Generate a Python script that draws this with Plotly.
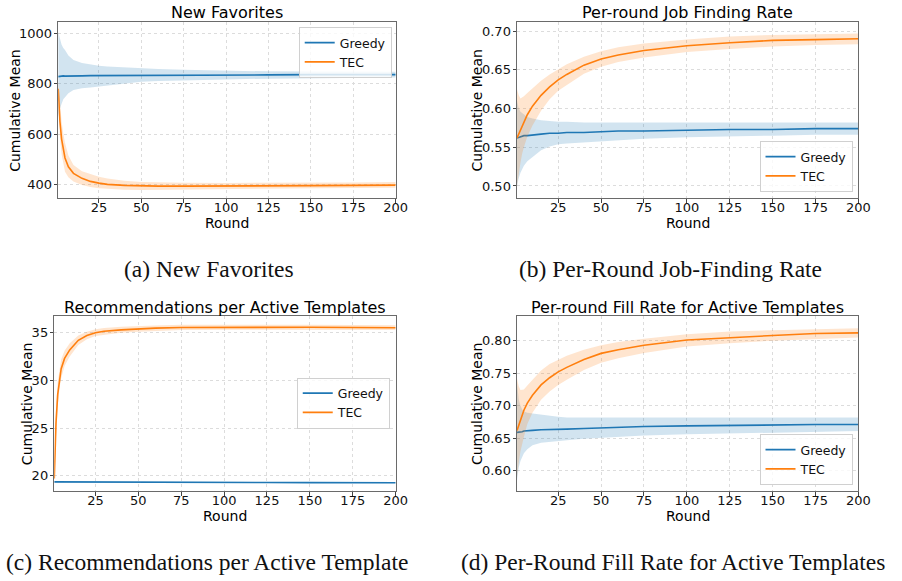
import plotly.graph_objects as go

W, H = 902, 581

rounds = [1, 2, 3, 4, 5, 7, 10, 15, 20, 25, 30, 40, 50, 60, 75, 100, 125, 150, 175, 200]

# (a) New Favorites
fav_greedy_mean = [828, 830, 829, 831, 830, 830, 829, 831, 832, 832, 833, 833, 834, 834, 835, 835, 835, 836, 836, 836]
fav_greedy_upper = [1005, 975, 955, 942, 934, 912, 894, 882, 875, 871, 868, 864, 861, 858, 855, 851, 849, 848, 847, 847]
fav_greedy_lower = [669, 700, 720, 738, 748, 762, 775, 782, 785, 787, 792, 800, 808, 811, 814, 817, 820, 822, 824, 825]
fav_tec_mean = [780, 650, 580, 535, 505, 470, 444, 424, 412, 405, 400, 396, 394, 393, 393, 393, 394, 395, 396, 397]
fav_tec_upper = [810, 720, 650, 600, 565, 515, 477, 452, 440, 430, 423, 415, 410, 408, 407, 406, 406, 407, 408, 410]
fav_tec_lower = [740, 590, 520, 480, 450, 428, 412, 398, 390, 385, 382, 379, 378, 378, 379, 380, 382, 384, 386, 387]

# (b) Per-round Job Finding Rate
job_greedy_mean = [0.562, 0.563, 0.564, 0.564, 0.565, 0.565, 0.566, 0.567, 0.568, 0.568, 0.569, 0.569, 0.570, 0.571, 0.571, 0.572, 0.573, 0.573, 0.574, 0.574]
job_greedy_upper = [0.610, 0.600, 0.596, 0.594, 0.592, 0.589, 0.587, 0.585, 0.584, 0.583, 0.583, 0.582, 0.582, 0.582, 0.582, 0.582, 0.582, 0.582, 0.582, 0.582]
job_greedy_lower = [0.500, 0.510, 0.517, 0.522, 0.526, 0.532, 0.538, 0.546, 0.551, 0.554, 0.555, 0.557, 0.558, 0.559, 0.561, 0.563, 0.564, 0.565, 0.566, 0.566]
job_tec_mean = [0.562, 0.567, 0.573, 0.578, 0.583, 0.592, 0.603, 0.617, 0.628, 0.637, 0.644, 0.656, 0.664, 0.669, 0.675, 0.681, 0.685, 0.688, 0.689, 0.690]
job_tec_upper = [0.625, 0.617, 0.613, 0.614, 0.616, 0.620, 0.626, 0.636, 0.644, 0.651, 0.657, 0.667, 0.674, 0.679, 0.684, 0.689, 0.693, 0.695, 0.696, 0.697]
job_tec_lower = [0.500, 0.515, 0.530, 0.542, 0.550, 0.564, 0.578, 0.597, 0.612, 0.623, 0.631, 0.645, 0.654, 0.660, 0.666, 0.673, 0.677, 0.680, 0.682, 0.683]

# (c) Recommendations per Active Templates
rec_greedy_mean = [19.36, 19.36, 19.35, 19.35, 19.35, 19.35, 19.35, 19.34, 19.34, 19.34, 19.33, 19.33, 19.32, 19.32, 19.31, 19.30, 19.29, 19.28, 19.28, 19.27]
rec_greedy_upper = [19.45, 19.44, 19.43, 19.42, 19.42, 19.41, 19.41, 19.40, 19.40, 19.39, 19.39, 19.38, 19.37, 19.37, 19.36, 19.35, 19.34, 19.33, 19.33, 19.32]
rec_greedy_lower = [19.27, 19.28, 19.28, 19.28, 19.28, 19.29, 19.29, 19.28, 19.28, 19.28, 19.28, 19.27, 19.27, 19.27, 19.26, 19.25, 19.24, 19.23, 19.23, 19.22]
rec_tec_mean = [19.7, 25.5, 28.5, 30.2, 31.2, 32.3, 33.2, 34.2, 34.7, 35.0, 35.15, 35.3, 35.4, 35.48, 35.55, 35.58, 35.58, 35.57, 35.55, 35.52]
rec_tec_upper = [20.2, 27.0, 29.8, 31.3, 32.2, 33.1, 33.9, 34.7, 35.1, 35.35, 35.5, 35.62, 35.7, 35.76, 35.82, 35.84, 35.83, 35.82, 35.8, 35.77]
rec_tec_lower = [19.2, 24.0, 27.2, 29.1, 30.2, 31.5, 32.5, 33.7, 34.3, 34.65, 34.8, 35.0, 35.1, 35.2, 35.28, 35.32, 35.33, 35.32, 35.3, 35.27]

# (d) Per-round Fill Rate for Active Templates
fill_greedy_mean = [0.659, 0.659, 0.660, 0.660, 0.661, 0.661, 0.662, 0.663, 0.663, 0.664, 0.664, 0.665, 0.666, 0.667, 0.668, 0.669, 0.670, 0.670, 0.671, 0.671]
fill_greedy_upper = [0.735, 0.710, 0.700, 0.694, 0.691, 0.689, 0.688, 0.686, 0.684, 0.683, 0.682, 0.682, 0.6815, 0.681, 0.681, 0.6815, 0.682, 0.682, 0.682, 0.682]
fill_greedy_lower = [0.585, 0.605, 0.615, 0.622, 0.627, 0.633, 0.639, 0.643, 0.645, 0.646, 0.647, 0.649, 0.651, 0.652, 0.654, 0.656, 0.658, 0.659, 0.660, 0.661]
fill_tec_mean = [0.662, 0.670, 0.678, 0.686, 0.693, 0.704, 0.716, 0.732, 0.743, 0.752, 0.759, 0.771, 0.7805, 0.786, 0.793, 0.801, 0.805, 0.808, 0.811, 0.812]
fill_tec_upper = [0.742, 0.730, 0.724, 0.724, 0.725, 0.731, 0.740, 0.754, 0.764, 0.771, 0.777, 0.786, 0.793, 0.798, 0.803, 0.810, 0.814, 0.816, 0.818, 0.819]
fill_tec_lower = [0.590, 0.612, 0.630, 0.642, 0.652, 0.672, 0.689, 0.709, 0.722, 0.732, 0.740, 0.755, 0.766, 0.773, 0.781, 0.791, 0.796, 0.800, 0.803, 0.805]

series_names = ["Greedy", "TEC"]
titles = ["New Favorites", "Per-round Job Finding Rate",
          "Recommendations per Active Templates", "Per-round Fill Rate for Active Templates"]
captions = ["(a) New Favorites", "(b) Per-Round Job-Finding Rate",
            "(c) Recommendations per Active Template", "(d) Per-Round Fill Rate for Active Templates"]
x_ticks = [25, 50, 75, 100, 125, 150, 175, 200]
y_ticks = [[400, 600, 800, 1000], [0.50, 0.55, 0.60, 0.65, 0.70],
           [20, 25, 30, 35], [0.60, 0.65, 0.70, 0.75, 0.80]]

panels = [
    (fav_greedy_mean, fav_greedy_upper, fav_greedy_lower, fav_tec_mean, fav_tec_upper, fav_tec_lower),
    (job_greedy_mean, job_greedy_upper, job_greedy_lower, job_tec_mean, job_tec_upper, job_tec_lower),
    (rec_greedy_mean, rec_greedy_upper, rec_greedy_lower, rec_tec_mean, rec_tec_upper, rec_tec_lower),
    (fill_greedy_mean, fill_greedy_upper, fill_greedy_lower, fill_tec_mean, fill_tec_upper, fill_tec_lower),
]

# layout geometry in pixels: (left, right, top, bottom)
boxes = [(59, 401, 22, 198), (524, 870, 22, 198), (55, 401, 316, 491), (524, 870, 316, 491)]
y_ranges = [[346, 1045], [0.4845, 0.7117], [18.4, 36.75], [0.5688, 0.838]]
y_formats = ["d", ".2f", "d", ".2f"]
# legend: (right px, anchor px, yanchor)
legends = [(397, 27, "top"), (864, 192, "bottom"), (395, 403, "middle"), (864, 485, "bottom")]
ylabel_x = [15, 483, 27, 483]
caption_pos = [(212, 269), (680, 269), (210, 562), (682, 562)]

colors = ["#1f77b4", "#ff7f0e"]
fills = ["rgba(31,119,180,0.2)", "rgba(255,127,14,0.2)"]

fig = go.Figure()
layout = {}
annotations = []

def px_x(p):
    return p / W

def px_y(p):
    return 1 - p / H

for i, panel in enumerate(panels):
    suffix = "" if i == 0 else str(i + 1)
    xa, ya = "x" + suffix, "y" + suffix
    lg = "legend" + suffix
    for s in range(2):
        mean, upper, lower = panel[3 * s], panel[3 * s + 1], panel[3 * s + 2]
        fig.add_trace(go.Scatter(
            x=rounds + rounds[::-1], y=upper + lower[::-1],
            fill="toself", fillcolor=fills[s], line=dict(width=0),
            mode="lines", hoverinfo="skip", showlegend=False,
            xaxis=xa, yaxis=ya))
        fig.add_trace(go.Scatter(
            x=rounds, y=mean, mode="lines", name=series_names[s],
            line=dict(color=colors[s], width=1.6),
            xaxis=xa, yaxis=ya, legend=lg, showlegend=True))
    l, r, t, b = boxes[i]
    axis_common = dict(showline=True, mirror=True, linecolor="#6a6a6a", linewidth=1,
                       ticks="outside", ticklen=3.5, tickcolor="#444",
                       showgrid=True, gridcolor="#dcdcdc", griddash="dot", gridwidth=1,
                       zeroline=False, tickfont=dict(family="DejaVu Sans", size=13, color="#111"))
    layout["xaxis" + suffix] = dict(domain=[px_x(l), px_x(r)], range=[1, 200],
                                    tickvals=x_ticks, anchor=ya, ticklabelstandoff=-6,
                                    **axis_common)
    layout["yaxis" + suffix] = dict(domain=[px_y(b), px_y(t)], range=y_ranges[i],
                                    tickvals=y_ticks[i], tickformat=y_formats[i],
                                    anchor=xa, ticklabelstandoff=-1, **axis_common)
    lx, ly, yanc = legends[i]
    layout[lg] = dict(x=px_x(lx), y=px_y(ly), xanchor="right", yanchor=yanc,
                      bgcolor="rgba(255,255,255,0.8)", bordercolor="#d0d0d0", borderwidth=1,
                      font=dict(family="DejaVu Sans", size=12.5, color="#111"),
                      tracegroupgap=0, itemwidth=30)
    # title
    annotations.append(dict(text=titles[i], x=px_x((l + r) / 2), y=px_y(t - 9),
                            xref="paper", yref="paper", xanchor="center", yanchor="middle",
                            showarrow=False, font=dict(family="DejaVu Sans", size=16, color="#000")))
    # x label
    annotations.append(dict(text="Round", x=px_x((l + r) / 2), y=px_y(b + 25),
                            xref="paper", yref="paper", xanchor="center", yanchor="middle",
                            showarrow=False, font=dict(family="DejaVu Sans", size=14, color="#000")))
    # y label
    annotations.append(dict(text="Cumulative Mean", x=px_x(ylabel_x[i]), y=px_y((t + b) / 2),
                            xref="paper", yref="paper", xanchor="center", yanchor="middle",
                            textangle=-90, showarrow=False,
                            font=dict(family="DejaVu Sans", size=14, color="#000")))
    # caption
    cx, cy = caption_pos[i]
    annotations.append(dict(text=captions[i], x=px_x(cx), y=px_y(cy),
                            xref="paper", yref="paper", xanchor="center", yanchor="middle",
                            showarrow=False, font=dict(family="Liberation Serif", size=23.5, color="#111")))

fig.update_layout(width=W, height=H, margin=dict(l=0, r=0, t=0, b=0),
                  paper_bgcolor="white", plot_bgcolor="white",
                  annotations=annotations, **layout)

fig.write_html("out.html")
